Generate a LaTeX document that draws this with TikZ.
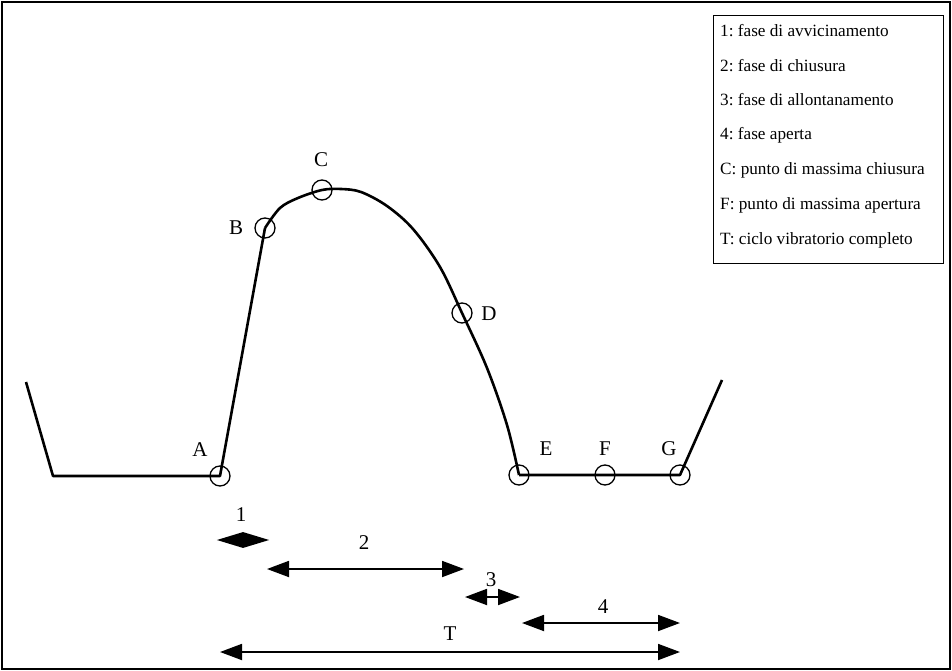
\documentclass[tikz,border=0pt]{standalone}
\usepackage{fontspec}
\setmainfont{Liberation Serif}
\usepackage{tikz}
\usetikzlibrary{positioning,arrows.meta}
\frenchspacing

\begin{document}
\begin{tikzpicture}[
  x=1pt, y=-1pt,
  font=\fontsize{21}{24}\selectfont,
  ptcirc/.style={draw, circle, line width=1.3pt, minimum size=20pt, inner sep=0pt},
  curve/.style={line width=2.6pt, line join=round},
  arr/.style={{Triangle[length=22pt,width=16pt]}-{Triangle[length=22pt,width=16pt]}, line width=1.8pt},
  legtext/.style={anchor=west, inner sep=0pt, font=\fontsize{17.2}{19}\selectfont}
]
  \useasboundingbox (0,0) rectangle (952,671);
  \draw[line width=1.4pt] (2,2) rectangle (950,669);

  % Points on the curve
  \node[ptcirc] (A) at (220,476) {};
  \node[ptcirc] (B) at (265,228) {};
  \node[ptcirc] (C) at (322,190) {};
  \node[ptcirc] (D) at (462,313) {};
  \node[ptcirc] (E) at (519,475) {};
  \node[ptcirc] (F) at (605,475) {};
  \node[ptcirc] (G) at (680,475) {};
  \coordinate (L0) at (26,382);
  \coordinate (L1) at (53,476);
  \coordinate (R0) at (722,380);

  \node at (200,450) {A};
  \node at (236,228) {B};
  \node at (321,160) {C};
  \node at (489,314) {D};
  \node at (546,449) {E};
  \node at (605,449) {F};
  \node at (669,449) {G};

  % Curve
  \draw[curve] (L0) -- (L1) -- (A.center) -- (B.center);
  \draw[curve] plot[smooth, tension=0.55] coordinates {(B.center) (280,208) (298,198) (C.center) (341,189) (361,192) (387,206) (413,229) (440,267) (D.center) (487,368) (507,425) (E.center)};
  \draw[curve] (E.center) -- (F.center) -- (G.center) -- (R0);

  % Phases
  \coordinate (p1a) at (220,540); \coordinate (p1b) at (266,540);
  \coordinate (p2a) at (267,569); \coordinate (p2b) at (464,569);
  \coordinate (p3a) at (465,597); \coordinate (p3b) at (520,597);
  \coordinate (p4a) at (522,623); \coordinate (p4b) at (680,623);
  \coordinate (pTa) at (220,652); \coordinate (pTb) at (680,652);

  \draw[line width=1.8pt, fill] (p1a) -- (243,533) -- (p1b) -- (243,547) -- cycle;
  \draw[arr] (p2a) -- (p2b);
  \draw[arr] (p3a) -- (p3b);
  \draw[arr] (p4a) -- (p4b);
  \draw[arr] (pTa) -- (pTb);

  \node at (241,515) {1};
  \node at (364,543) {2};
  \node at (491,580) {3};
  \node at (603,607) {4};
  \node at (450,634) {T};

  % Legend
  \node[draw, line width=1.2pt, minimum width=230pt, minimum height=248pt, anchor=north west] (legend) at (713,15) {};
  \node[legtext] (l1) at (720,31) {1: fase di avvicinamento};
  \node[legtext] (l2) at (720,66) {2: fase di chiusura};
  \node[legtext] (l3) at (720,100) {3: fase di allontanamento};
  \node[legtext] (l4) at (720,135) {4: fase aperta};
  \node[legtext] (l5) at (720,170) {C: punto di massima chiusura};
  \node[legtext] (l6) at (720,205) {F: punto di massima apertura};
  \node[legtext] (l7) at (720,240) {T: ciclo vibratorio completo};
\end{tikzpicture}
\end{document}
